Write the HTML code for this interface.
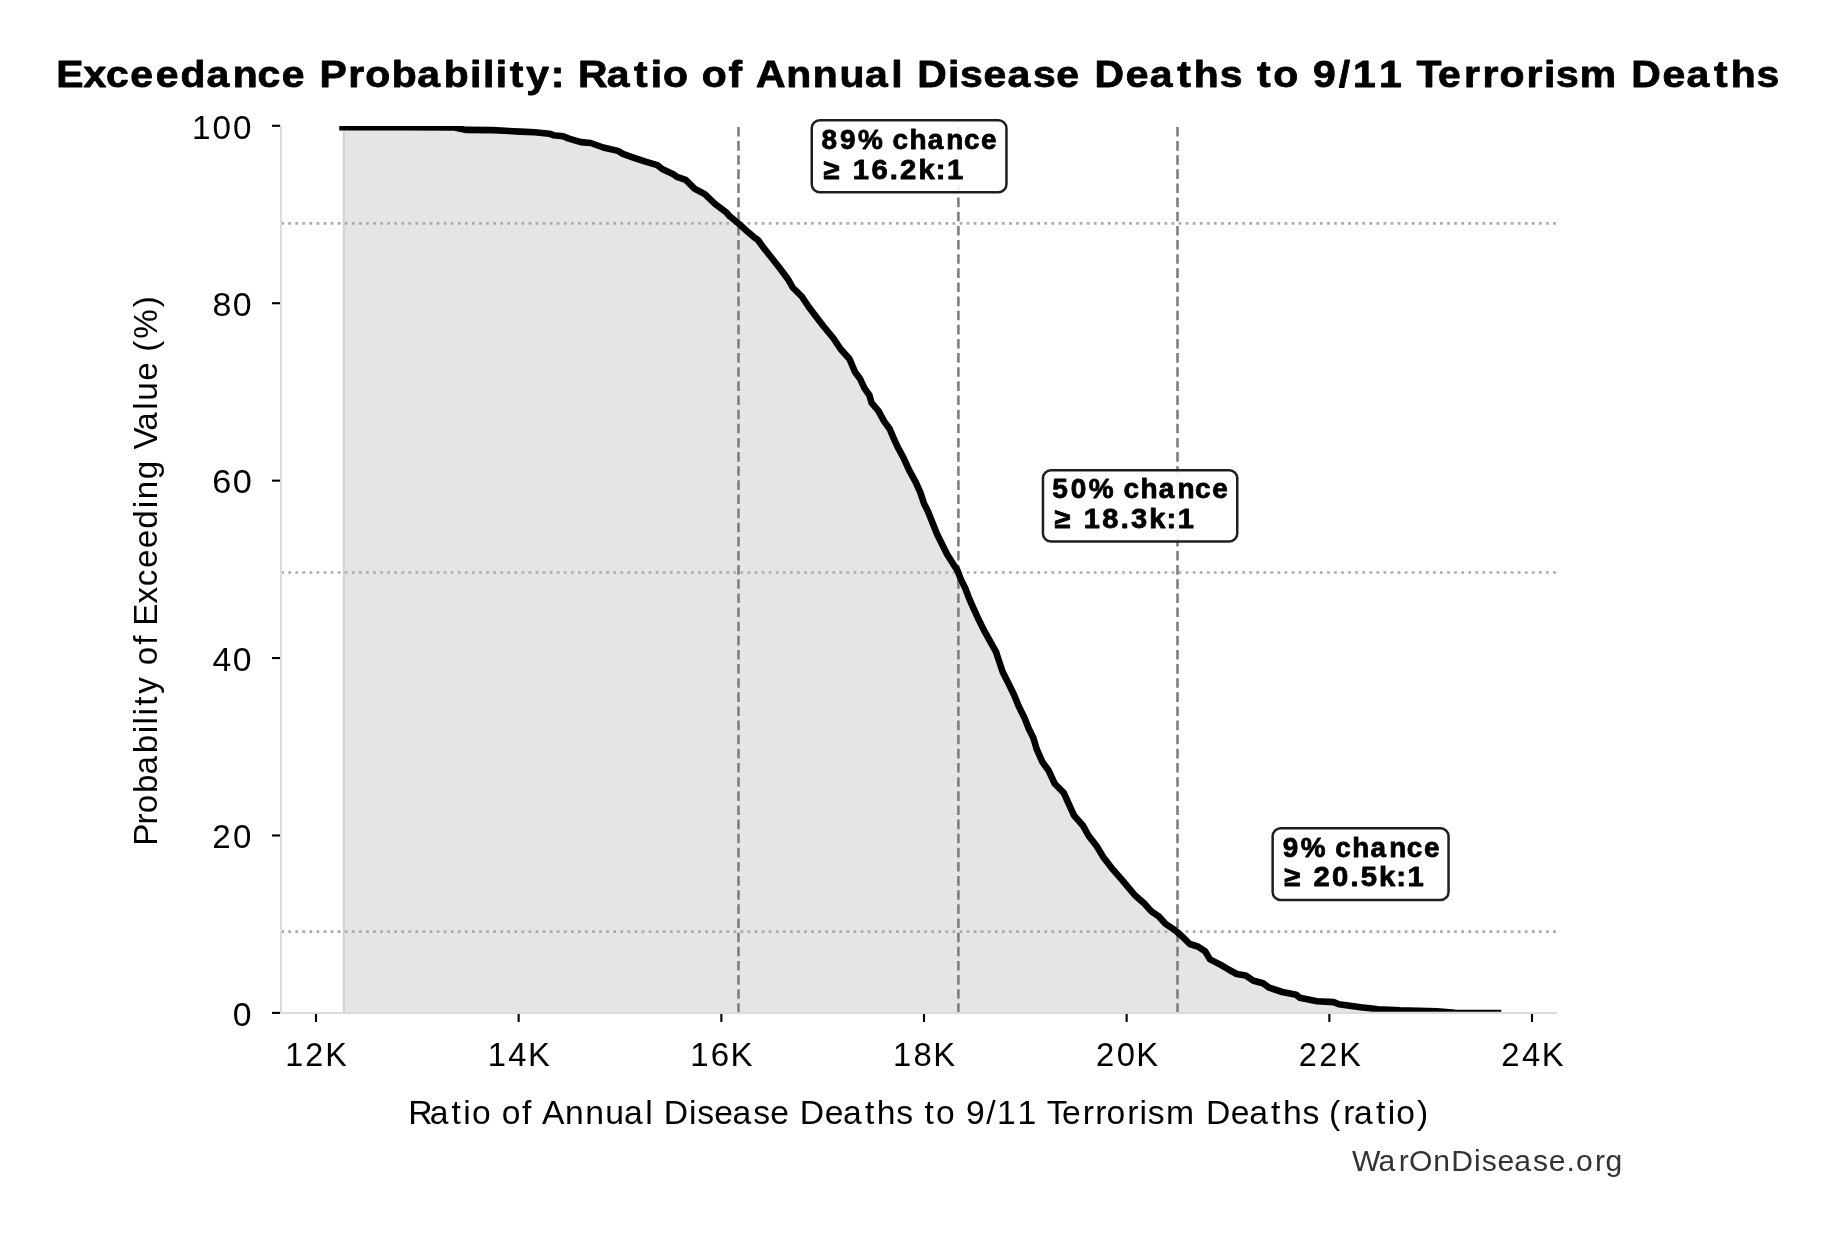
<!DOCTYPE html>
<html><head><meta charset="utf-8"><title>Exceedance Probability</title><style>html,body{margin:0;padding:0;background:#fff;overflow:hidden}svg{display:block;will-change:transform}text{font-family:"Liberation Sans",sans-serif}</style></head><body>
<svg width="1836" height="1234" viewBox="0 0 1836 1234">
<defs><clipPath id="ax"><rect x="281" y="125.9" width="1276" height="885.9"/></clipPath></defs>
<rect width="1836" height="1234" fill="#fff"/>
<polygon points="343.6,130.6 344.6,127.3 400.0,127.3 454.5,127.5 465.4,129.9 492.6,130.1 520.0,131.6 534.7,132.3 549.4,133.7 553.3,135.2 563.1,136.2 569.0,138.6 580.8,142.1 590.6,143.0 603.3,147.5 618.0,150.9 622.9,153.8 632.7,157.3 645.5,161.7 657.3,165.1 662.2,169.0 672.9,173.9 676.9,176.9 685.7,179.8 694.5,188.6 704.8,194.2 715.0,203.8 726.3,212.3 729.7,216.3 738.8,223.7 745.6,229.9 753.6,236.8 758.1,240.2 763.8,248.1 771.4,257.5 780.0,268.5 784.5,274.5 788.2,279.5 792.7,287.5 801.8,296.5 808.6,306.8 815.4,315.8 823.3,326.0 833.6,338.5 840.4,348.8 849.5,359.0 855.0,372.0 860.0,378.7 864.5,388.3 869.3,395.0 871.6,402.9 878.4,410.9 884.0,421.1 889.7,429.0 893.1,437.0 897.7,447.2 903.3,457.4 909.0,469.9 915.8,482.3 920.4,492.6 924.0,503.5 927.9,511.3 932.5,522.7 937.0,534.0 942.7,545.4 947.2,554.5 952.9,563.5 957.4,570.4 960.9,579.4 965.4,588.5 968.8,597.6 973.3,607.8 977.9,618.0 983.5,629.4 988.6,638.7 995.9,651.6 999.3,661.8 1002.7,672.0 1008.4,683.3 1014.0,694.7 1018.6,706.0 1024.3,717.4 1028.8,728.7 1033.3,737.8 1036.7,749.1 1042.4,762.0 1048.6,770.5 1054.8,783.8 1063.8,792.9 1068.4,803.1 1074.1,815.6 1083.1,825.8 1088.8,836.0 1096.8,846.3 1103.6,857.6 1111.5,867.8 1122.0,879.8 1129.1,888.4 1135.5,895.8 1144.3,903.5 1151.6,911.6 1158.9,916.5 1165.4,923.8 1175.1,930.2 1181.6,935.9 1189.7,944.0 1197.8,946.5 1205.1,951.3 1210.0,959.4 1221.3,965.1 1229.4,970.0 1236.7,974.0 1245.7,975.5 1253.5,980.7 1263.1,983.3 1269.2,987.7 1282.3,992.0 1296.2,994.7 1299.7,997.7 1317.1,1001.2 1333.7,1002.1 1338.9,1004.2 1360.7,1007.3 1378.1,1009.2 1400.0,1010.3 1437.0,1011.2 1455.0,1012.7 1498.0,1013.0 1498,1012.9 343.6,1012.9" fill="#e5e5e5"/>
<line x1="343.8" y1="131" x2="343.8" y2="1012.9" stroke="#d0d0d0" stroke-width="2"/>
<line x1="281.25" y1="223.3" x2="1557" y2="223.3" stroke="#aaa" stroke-width="2.7" stroke-dasharray="2.7 4.366"/>
<line x1="281.25" y1="572.5" x2="1557" y2="572.5" stroke="#aaa" stroke-width="2.7" stroke-dasharray="2.7 4.366"/>
<line x1="281.25" y1="931.7" x2="1557" y2="931.7" stroke="#aaa" stroke-width="2.7" stroke-dasharray="2.7 4.366"/>
<line x1="738.5" y1="1012.9" x2="738.5" y2="125.8" stroke="#7f7f7f" stroke-width="2.6" stroke-dasharray="9.6 4.535"/>
<line x1="958.4" y1="1012.9" x2="958.4" y2="125.8" stroke="#7f7f7f" stroke-width="2.6" stroke-dasharray="9.6 4.535"/>
<line x1="1177.5" y1="1012.9" x2="1177.5" y2="125.8" stroke="#7f7f7f" stroke-width="2.6" stroke-dasharray="9.6 4.535"/>
<line x1="281" y1="125" x2="281" y2="1013.9" stroke="#dcdcdc" stroke-width="2"/>
<line x1="280" y1="1012.9" x2="1557" y2="1012.9" stroke="#dcdcdc" stroke-width="2"/>
<line x1="272" y1="1012.90" x2="280" y2="1012.90" stroke="#000" stroke-width="2.1"/>
<line x1="272" y1="835.48" x2="280" y2="835.48" stroke="#000" stroke-width="2.1"/>
<line x1="272" y1="658.06" x2="280" y2="658.06" stroke="#000" stroke-width="2.1"/>
<line x1="272" y1="480.64" x2="280" y2="480.64" stroke="#000" stroke-width="2.1"/>
<line x1="272" y1="303.22" x2="280" y2="303.22" stroke="#000" stroke-width="2.1"/>
<line x1="272" y1="125.80" x2="280" y2="125.80" stroke="#000" stroke-width="2.1"/>
<line x1="316.00" y1="1014" x2="316.00" y2="1022" stroke="#000" stroke-width="2.1"/>
<line x1="518.67" y1="1014" x2="518.67" y2="1022" stroke="#000" stroke-width="2.1"/>
<line x1="721.33" y1="1014" x2="721.33" y2="1022" stroke="#000" stroke-width="2.1"/>
<line x1="924.00" y1="1014" x2="924.00" y2="1022" stroke="#000" stroke-width="2.1"/>
<line x1="1126.67" y1="1014" x2="1126.67" y2="1022" stroke="#000" stroke-width="2.1"/>
<line x1="1329.33" y1="1014" x2="1329.33" y2="1022" stroke="#000" stroke-width="2.1"/>
<line x1="1532.00" y1="1014" x2="1532.00" y2="1022" stroke="#000" stroke-width="2.1"/>
<polyline points="342.5,127.3 400.0,127.3 454.5,127.5 465.4,129.9 492.6,130.1 520.0,131.6 534.7,132.3 549.4,133.7 553.3,135.2 563.1,136.2 569.0,138.6 580.8,142.1 590.6,143.0 603.3,147.5 618.0,150.9 622.9,153.8 632.7,157.3 645.5,161.7 657.3,165.1 662.2,169.0 672.9,173.9 676.9,176.9 685.7,179.8 694.5,188.6 704.8,194.2 715.0,203.8 726.3,212.3 729.7,216.3 738.8,223.7 745.6,229.9 753.6,236.8 758.1,240.2 763.8,248.1 771.4,257.5 780.0,268.5 784.5,274.5 788.2,279.5 792.7,287.5 801.8,296.5 808.6,306.8 815.4,315.8 823.3,326.0 833.6,338.5 840.4,348.8 849.5,359.0 855.0,372.0 860.0,378.7 864.5,388.3 869.3,395.0 871.6,402.9 878.4,410.9 884.0,421.1 889.7,429.0 893.1,437.0 897.7,447.2 903.3,457.4 909.0,469.9 915.8,482.3 920.4,492.6 924.0,503.5 927.9,511.3 932.5,522.7 937.0,534.0 942.7,545.4 947.2,554.5 952.9,563.5 957.4,570.4 960.9,579.4 965.4,588.5 968.8,597.6 973.3,607.8 977.9,618.0 983.5,629.4 988.6,638.7 995.9,651.6 999.3,661.8 1002.7,672.0 1008.4,683.3 1014.0,694.7 1018.6,706.0 1024.3,717.4 1028.8,728.7 1033.3,737.8 1036.7,749.1 1042.4,762.0 1048.6,770.5 1054.8,783.8 1063.8,792.9 1068.4,803.1 1074.1,815.6 1083.1,825.8 1088.8,836.0 1096.8,846.3 1103.6,857.6 1111.5,867.8 1122.0,879.8 1129.1,888.4 1135.5,895.8 1144.3,903.5 1151.6,911.6 1158.9,916.5 1165.4,923.8 1175.1,930.2 1181.6,935.9 1189.7,944.0 1197.8,946.5 1205.1,951.3 1210.0,959.4 1221.3,965.1 1229.4,970.0 1236.7,974.0 1245.7,975.5 1253.5,980.7 1263.1,983.3 1269.2,987.7 1282.3,992.0 1296.2,994.7 1299.7,997.7 1317.1,1001.2 1333.7,1002.1 1338.9,1004.2 1360.7,1007.3 1378.1,1009.2 1400.0,1010.3 1437.0,1011.2 1455.0,1012.7 1498.0,1013.0" fill="none" stroke="#000" stroke-width="6.6" stroke-linejoin="round" stroke-linecap="square" clip-path="url(#ax)"/>
<rect x="811.75" y="120.25" width="194.70" height="72.00" rx="8" ry="8" fill="#fff" fill-opacity="0.9" stroke="#1e1e1e" stroke-width="2.5"/>
<rect x="1042.95" y="470.25" width="194.30" height="71.20" rx="8" ry="8" fill="#fff" fill-opacity="0.9" stroke="#1e1e1e" stroke-width="2.5"/>
<rect x="1272.65" y="828.35" width="175.90" height="71.60" rx="8" ry="8" fill="#fff" fill-opacity="0.9" stroke="#1e1e1e" stroke-width="2.5"/>
<g font-family="Liberation Sans, sans-serif">
<text transform="translate(0 86.50) scale(1.0818 1)" x="52.01 77.28 98.06 120.44 143.88 166.92 190.90 215.15 238.11 260.48 283.67 295.25 321.88 337.64 362.09 385.66 410.15 434.56 446.40 458.25 471.21 486.53 509.08 523.05 534.33 560.79 586.05 601.47 612.95 637.13 648.73 673.49 687.95 698.96 726.75 751.35 775.91 799.64 823.80 835.72 847.89 876.37 887.48 909.12 931.40 954.82 976.46 999.64 1011.82 1040.62 1062.90 1088.17 1103.60 1127.45 1148.83 1161.90 1176.95 1201.14 1213.75 1237.51 1250.68 1274.73 1297.94 1309.43 1329.31 1353.34 1370.39 1386.15 1411.18 1427.31 1438.42 1460.22 1495.82 1507.99 1536.79 1559.07 1584.34 1599.77 1623.62" y="0" font-weight="bold" font-size="37.83" fill="#000" stroke="#000" stroke-width="0.8" stroke-linejoin="round">Exceedance Probability: Ratio of Annual Disease Deaths to 9/11 Terrorism Deaths</text>
<text transform="translate(0 1124.00) scale(1.0054 1)" x="406.13 427.37 449.12 460.81 469.36 488.80 498.94 519.33 529.58 538.99 561.89 582.05 602.07 620.77 641.72 650.27 660.18 685.19 693.45 710.42 728.69 749.09 766.06 785.50 795.41 820.24 838.51 860.27 872.03 891.54 908.38 919.59 930.99 950.43 960.84 981.08 991.72 1011.96 1031.97 1041.18 1056.25 1076.85 1089.29 1100.59 1121.20 1133.42 1141.68 1159.75 1189.51 1199.42 1224.25 1242.52 1264.28 1276.04 1295.55 1312.39 1321.88 1336.08 1346.82 1368.58 1380.27 1388.82 1409.33" y="0" font-weight="normal" font-size="33.48" fill="#000">Ratio of Annual Disease Deaths to 9/11 Terrorism Deaths (ratio)</text>
<text transform="translate(0 1170.90) scale(0.9936 1)" x="1360.83 1387.47 1407.64 1418.00 1442.38 1460.57 1483.55 1491.32 1507.09 1524.05 1542.93 1558.69 1576.60 1586.12 1605.17 1615.86" y="0" font-weight="normal" font-size="30.29" fill="#333">WarOnDisease.org</text>
<text transform="translate(0 148.50) scale(1.0045 1)" x="817.84 836.12 854.07 880.38 888.49 905.38 923.52 942.07 959.59 976.69" y="0" font-weight="bold" font-size="27.83" fill="#000" stroke="#000" stroke-width="0.8" stroke-linejoin="round">89% chance</text>
<text transform="translate(0 178.50) scale(1.0495 1)" x="784.33 803.18 812.65 830.36 847.82 857.59 875.24 891.56 902.45" y="0" font-weight="bold" font-size="27.83" fill="#000" stroke="#000" stroke-width="0.8" stroke-linejoin="round">≥ 16.2k:1</text>
<text transform="translate(0 497.70) scale(1.0122 1)" x="1039.70 1057.95 1075.66 1101.84 1109.90 1126.71 1144.76 1163.21 1180.63 1197.65" y="0" font-weight="bold" font-size="27.68" fill="#000" stroke="#000" stroke-width="0.8" stroke-linejoin="round">50% chance</text>
<text transform="translate(0 527.90) scale(1.0420 1)" x="1011.71 1030.62 1040.15 1057.82 1075.47 1085.34 1103.02 1119.39 1130.35" y="0" font-weight="bold" font-size="27.83" fill="#000" stroke="#000" stroke-width="0.8" stroke-linejoin="round">≥ 18.3k:1</text>
<text transform="translate(0 856.60) scale(0.9956 1)" x="1288.42 1306.56 1333.09 1341.29 1358.35 1376.67 1395.39 1413.08 1430.35" y="0" font-weight="bold" font-size="27.97" fill="#000" stroke="#000" stroke-width="0.8" stroke-linejoin="round">9% chance</text>
<text transform="translate(0 886.30) scale(1.0528 1)" x="1219.69 1238.43 1247.71 1265.31 1282.75 1292.49 1309.92 1326.15 1336.94" y="0" font-weight="bold" font-size="27.83" fill="#000" stroke="#000" stroke-width="0.8" stroke-linejoin="round">≥ 20.5k:1</text>
<text transform="translate(0 1025.60) scale(1.0120 1)" x="230.10" y="0" font-weight="normal" font-size="33.33" fill="#000">0</text>
<text transform="translate(0 848.18) scale(0.9941 1)" x="213.50 234.41" y="0" font-weight="normal" font-size="33.33" fill="#000">20</text>
<text transform="translate(0 670.76) scale(1.0121 1)" x="209.96 230.08" y="0" font-weight="normal" font-size="33.33" fill="#000">40</text>
<text transform="translate(0 493.34) scale(1.0294 1)" x="206.28 226.06" y="0" font-weight="normal" font-size="33.33" fill="#000">60</text>
<text transform="translate(0 315.92) scale(1.0173 1)" x="208.83 228.84" y="0" font-weight="normal" font-size="33.33" fill="#000">80</text>
<text transform="translate(0 138.50) scale(0.9978 1)" x="192.53 213.10 233.50" y="0" font-weight="normal" font-size="33.33" fill="#000">100</text>
<text transform="translate(0 1065.90) scale(0.9699 1)" x="294.04 314.75 335.45" y="0" font-weight="normal" font-size="33.33" fill="#000">12K</text>
<text transform="translate(0 1065.90) scale(0.9824 1)" x="496.49 517.37 537.34" y="0" font-weight="normal" font-size="33.33" fill="#000">14K</text>
<text transform="translate(0 1065.90) scale(0.9926 1)" x="695.44 716.12 735.84" y="0" font-weight="normal" font-size="33.33" fill="#000">16K</text>
<text transform="translate(0 1065.90) scale(0.9851 1)" x="906.54 927.37 947.27" y="0" font-weight="normal" font-size="33.33" fill="#000">18K</text>
<text transform="translate(0 1065.90) scale(0.9842 1)" x="1113.59 1134.70 1154.62" y="0" font-weight="normal" font-size="33.33" fill="#000">20K</text>
<text transform="translate(0 1065.90) scale(0.9726 1)" x="1335.46 1356.40 1377.03" y="0" font-weight="normal" font-size="33.33" fill="#000">22K</text>
<text transform="translate(0 1065.90) scale(0.9847 1)" x="1524.62 1545.72 1565.63" y="0" font-weight="normal" font-size="33.33" fill="#000">24K</text>
<text transform="translate(157 0) rotate(-90) scale(0.9959 1)" x="-849.30 -828.01 -816.57 -796.36 -777.74 -756.31 -736.28 -727.38 -718.44 -708.71 -696.55 -678.23 -667.94 -647.42 -637.08 -628.43 -605.97 -588.59 -570.38 -550.63 -530.83 -510.40 -501.28 -481.18 -461.05 -451.46 -432.56 -411.49 -402.50 -382.31 -362.76 -353.16 -340.07 -308.44" y="0" font-size="33.33" fill="#000">Probability of Exceeding Value (%)</text>
</g></svg>
</body></html>
